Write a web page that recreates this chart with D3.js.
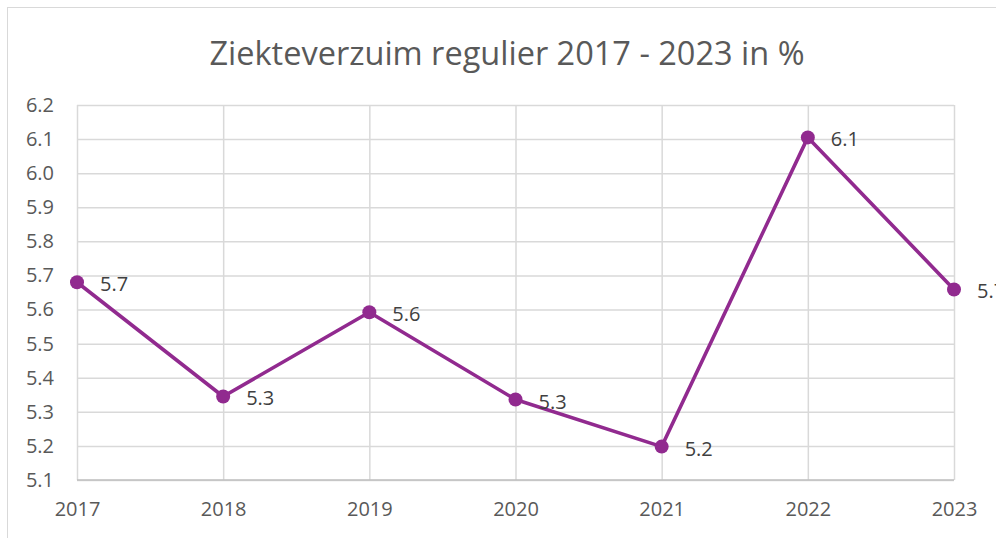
<!DOCTYPE html>
<html>
<head>
<meta charset="utf-8">
<script src="https://cdn.jsdelivr.net/npm/d3@7/dist/d3.min.js"></script>
<style>
  html, body { margin: 0; padding: 0; background: #fff; }
  svg { display: block; font-family: "Open Sans", sans-serif; }
</style>
</head>
<body>
<svg id="chart" width="996" height="538"></svg>
<script>
  var years = ['2017', '2018', '2019', '2020', '2021', '2022', '2023'];
  var verzuim = [5.68, 5.345, 5.592, 5.336, 5.198, 6.105, 5.659];
  var yTicks = [5.1, 5.2, 5.3, 5.4, 5.5, 5.6, 5.7, 5.8, 5.9, 6.0, 6.1, 6.2];
  var title = 'Ziekteverzuim regulier 2017 - 2023 in %';

  var svg = d3.select('#chart');
  var margin = { left: 77, right: 42, top: 105, bottom: 58 };
  var width = 996, height = 538;

  var x = d3.scalePoint()
    .domain(years)
    .range([margin.left, width - margin.right]);

  var y = d3.scaleLinear()
    .domain([5.1, 6.2])
    .range([height - margin.bottom, margin.top]);

  // chart frame
  svg.append('rect')
    .attr('x', 7.5)
    .attr('y', 7.5)
    .attr('width', 1100)
    .attr('height', 600)
    .attr('fill', '#fff')
    .attr('stroke', '#d9d9d9')
    .attr('stroke-width', 1);

  svg.append('text')
    .attr('x', 507)
    .attr('y', 65)
    .attr('text-anchor', 'middle')
    .attr('font-size', 32.5)
    .attr('fill', '#595959')
    .text(title);

  // horizontal grid
  var yAxis = svg.append('g')
    .attr('transform', 'translate(' + margin.left + ',0)')
    .call(d3.axisLeft(y)
      .tickValues(yTicks)
      .tickSize(-(width - margin.left - margin.right))
      .tickPadding(23)
      .tickFormat(d3.format('.1f')));

  yAxis.select('.domain').remove();
  yAxis.selectAll('.tick line')
    .attr('stroke', '#d9d9d9')
    .attr('stroke-width', 1.5);
  yAxis.selectAll('.tick text')
    .attr('fill', '#595959')
    .attr('font-size', 20)
    .attr('font-family', '"Open Sans", sans-serif');

  // vertical grid
  var xAxis = svg.append('g')
    .attr('transform', 'translate(0,' + (height - margin.bottom) + ')')
    .call(d3.axisBottom(x)
      .tickSize(-(height - margin.top - margin.bottom))
      .tickPadding(22));

  xAxis.select('.domain').remove();
  xAxis.selectAll('.tick line')
    .attr('stroke', '#d9d9d9')
    .attr('stroke-width', 1.5);
  xAxis.selectAll('.tick text')
    .attr('fill', '#595959')
    .attr('font-size', 20)
    .attr('font-family', '"Open Sans", sans-serif');

  // bottom axis line
  svg.append('line')
    .attr('x1', margin.left)
    .attr('x2', width - margin.right)
    .attr('y1', y(5.1))
    .attr('y2', y(5.1))
    .attr('stroke', '#bfbfbf')
    .attr('stroke-width', 1.5);

  var data = years.map(function(d, i) { return { year: d, value: verzuim[i] }; });

  var line = d3.line()
    .x(function(d) { return x(d.year); })
    .y(function(d) { return y(d.value); });

  svg.append('path')
    .datum(data)
    .attr('d', line)
    .attr('fill', 'none')
    .attr('stroke', '#912a8f')
    .attr('stroke-width', 3.6)
    .attr('stroke-linejoin', 'round');

  svg.selectAll('circle.point')
    .data(data)
    .enter().append('circle')
    .attr('class', 'point')
    .attr('cx', function(d) { return x(d.year); })
    .attr('cy', function(d) { return y(d.value); })
    .attr('r', 7)
    .attr('fill', '#912a8f');

  svg.selectAll('text.label')
    .data(data)
    .enter().append('text')
    .attr('class', 'label')
    .attr('x', function(d) { return x(d.year) + 23; })
    .attr('y', function(d) { return y(d.value) + 9; })
    .attr('font-size', 20)
    .attr('fill', '#404040')
    .text(function(d) { return d3.format('.1f')(d.value); });
</script>
</body>
</html>
